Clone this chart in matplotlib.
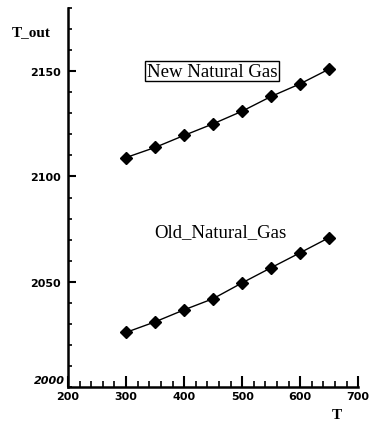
import matplotlib
matplotlib.use('Agg')
import matplotlib.pyplot as plt
from matplotlib.ticker import MultipleLocator

# Данные
T = [300, 350, 400, 450, 500, 550, 600, 650]
new_gas = [2109, 2113.8, 2119.5, 2125, 2131, 2138, 2144, 2151]
old_gas = [2026, 2031, 2036.7, 2042, 2049.5, 2056.7, 2063.8, 2071]

x_ticks = [200, 300, 400, 500, 600, 700]
y_ticks = [2050, 2100, 2150]

fig = plt.figure(figsize=(3.7, 4.27), dpi=100)
ax = fig.add_axes([0.184, 0.091, 0.784, 0.888])

ax.plot(T, new_gas, color='black', lw=1, marker='D', ms=6)
ax.plot(T, old_gas, color='black', lw=1, marker='D', ms=6)

ax.set_xlim(200, 700)
ax.set_ylim(2000, 2180)

ax.spines['top'].set_visible(False)
ax.spines['right'].set_visible(False)
ax.spines['left'].set_linewidth(1.8)
ax.spines['bottom'].set_linewidth(1.8)

ax.set_xticks(x_ticks)
ax.set_yticks(y_ticks)
ax.xaxis.set_minor_locator(MultipleLocator(20))
ax.yaxis.set_minor_locator(MultipleLocator(10))
ax.tick_params(axis='x', which='major', direction='in', length=8, width=1.5, pad=3)
ax.tick_params(axis='x', which='minor', direction='in', length=4, width=1.2)
ax.tick_params(axis='y', which='major', direction='in', length=6, width=1.5, pad=5)
ax.tick_params(axis='y', which='minor', direction='in', length=3, width=1.2)

tick_font = {'family': ['Liberation Sans Narrow', 'DejaVu Sans'], 'weight': 'bold', 'size': 8}
ax.set_xticklabels([str(v) for v in x_ticks], fontdict=tick_font)
ax.set_yticklabels([str(v) for v in y_ticks], fontdict=tick_font)

# подпись 2000 в углу
ax.text(-0.01, 0.005, '2000', transform=ax.transAxes, ha='right', va='bottom',
        fontsize=8, fontweight='bold', style='italic',
        family=['Liberation Sans Narrow', 'DejaVu Sans'])

serif = ['Liberation Serif', 'DejaVu Serif']
fig.text(0.032, 0.915, 'T_out', family=serif, fontsize=11, fontweight='bold')
fig.text(0.897, 0.018, 'T', family=serif, fontsize=11, fontweight='bold')

ax.text(448, 2150, 'New Natural Gas', family=serif, fontsize=13.5, ha='center', va='center',
        bbox=dict(boxstyle='square,pad=0.08', fc='white', ec='black', lw=1))
ax.text(462, 2074, 'Old_Natural_Gas', family=serif, fontsize=13.5, ha='center', va='center')

plt.savefig('out.png', dpi=100)
